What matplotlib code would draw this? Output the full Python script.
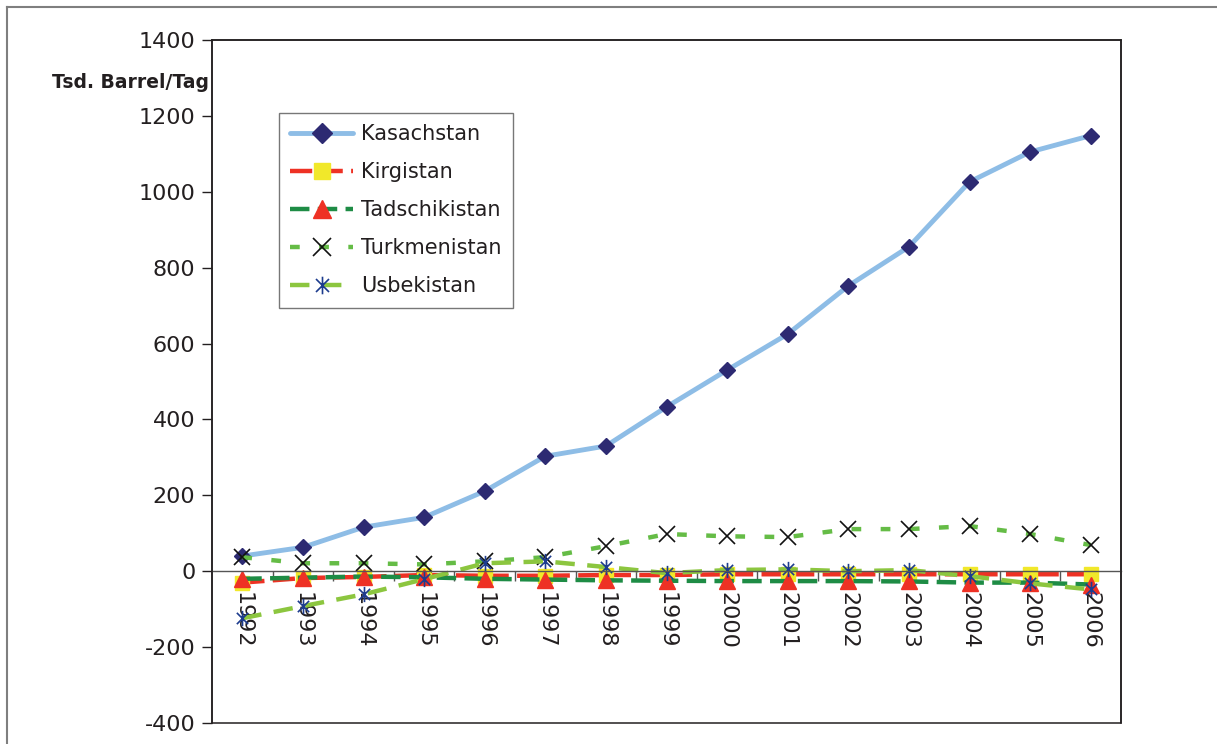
import matplotlib
matplotlib.use("Agg")
import matplotlib.pyplot as plt
from matplotlib.path import Path
from matplotlib.lines import Line2D
from matplotlib.patches import Rectangle

plt.rcParams['font.family'] = ['DejaVu Sans']
plt.rcParams['lines.scale_dashes'] = False

years = ['1992', '1993', '1994', '1995', '1996', '1997', '1998', '1999',
         '2000', '2001', '2002', '2003', '2004', '2005', '2006']
kasachstan = [40, 63, 116, 142, 211, 303, 330, 433, 530, 625, 752, 855, 1026, 1105, 1148]
kirgistan = [-30, -18, -15, -10, -12, -12, -10, -10, -8, -8, -8, -8, -8, -8, -8]
tadschikistan = [-20, -17, -14, -16, -20, -22, -24, -25, -26, -26, -26, -27, -30, -30, -35]
turkmenistan = [37, 21, 21, 18, 26, 37, 66, 98, 92, 90, 111, 111, 119, 98, 69]
usbekistan = [-124, -92, -61, -21, 21, 26, 11, -5, 3, 5, 0, 3, -13, -32, -48]
series_names = ['Kasachstan', 'Kirgistan', 'Tadschikistan', 'Turkmenistan', 'Usbekistan']
y_ticks = [-400, -200, 0, 200, 400, 600, 800, 1000, 1200, 1400]
y_label = 'Tsd. Barrel/Tag'

star = Path([(-1, -1), (1, 1), (-1, 1), (1, -1), (0, -1.35), (0, 1.35)],
            [Path.MOVETO, Path.LINETO, Path.MOVETO, Path.LINETO, Path.MOVETO, Path.LINETO])

fig = plt.figure(figsize=(12.17, 7.44), dpi=100)
ax = fig.add_axes([212/1217, 21/744, 909/1217, 683/744])

x = list(range(len(years)))
ax.plot(x, kasachstan, color='#8EBDE6', lw=3.5, marker='D', ms=8.5,
        mfc='#2D2A72', mec='#2D2A72', label=series_names[0], solid_capstyle='round')
ax.plot(x, kirgistan, color='#EE3124', lw=3.2, ls=(0, (16, 6)), marker='s', ms=10,
        mfc='#F1E82A', mec='#F1E82A', label=series_names[1])
ax.plot(x, tadschikistan, color='#1E8C45', lw=3.2, ls=(0, (14, 6)), marker='^', ms=11,
        mfc='#EE3124', mec='#EE3124', label=series_names[2])
ax.plot(x, turkmenistan, color='#65BC46', lw=3.2, ls=(0, (7, 14)), marker='x', ms=11,
        mec='#111111', mew=1.2, label=series_names[3])
ax.plot(x, usbekistan, color='#8CC63F', lw=3.2, ls=(0, (14, 9)), marker=star, ms=11,
        mec='#1D3C8E', mfc='none', mew=1.2, label=series_names[4])

ax.set_xlim(-0.5, len(years) - 0.5)
ax.set_ylim(-400, 1400)
ax.set_yticks(y_ticks)
ax.set_yticklabels([str(v) for v in y_ticks], fontsize=16, color='#231F20')
ax.tick_params(axis='y', direction='out', length=7, width=1, pad=5, color='#231F20')

# category axis crossing at zero
ax.spines['bottom'].set_position(('data', 0))
ax.spines['bottom'].set_color('#555555')
ax.spines['bottom'].set_linewidth(1.0)
for s in ['left', 'top', 'right']:
    ax.spines[s].set_color('#231F20')
    ax.spines[s].set_linewidth(1.1)
ax.add_patch(Rectangle((0, 0), 1, 1, transform=ax.transAxes, fill=False,
                       edgecolor='#231F20', lw=1.1, clip_on=False, zorder=5))
ax.set_xticks(x)
ax.set_xticklabels(years, rotation=270, fontsize=16, color='#231F20', va='top', ha='center')
ax.set_xticks([i + 0.5 for i in x[:-1]], minor=True)
ax.tick_params(axis='x', which='major', length=0, pad=15)
ax.tick_params(axis='x', which='minor', length=7, width=1, direction='out', color='#555555')

ax.text(-0.003, (723 - 83) / 683, y_label, transform=ax.transAxes, ha='right', va='center',
        fontsize=13.5, fontweight='bold', color='#231F20')

leg = ax.legend(loc='upper left', bbox_to_anchor=((279 - 212) / 909, (723 - 113) / 683),
                fontsize=15, frameon=True, fancybox=False, edgecolor='#555555',
                handlelength=3.0, labelspacing=0.86, borderpad=0.55, handletextpad=0.4,
                borderaxespad=0, markerscale=1.15)
leg.get_frame().set_linewidth(1.0)
for t in leg.get_texts():
    t.set_color('#231F20')

# outer chart frame
fig.add_artist(Line2D([7/1217, 1], [1 - 7/744, 1 - 7/744], color='#7F7F7F', lw=1.5))
fig.add_artist(Line2D([7/1217, 7/1217], [0, 1 - 7/744], color='#7F7F7F', lw=1.5))

fig.savefig('out.png', dpi=100)
